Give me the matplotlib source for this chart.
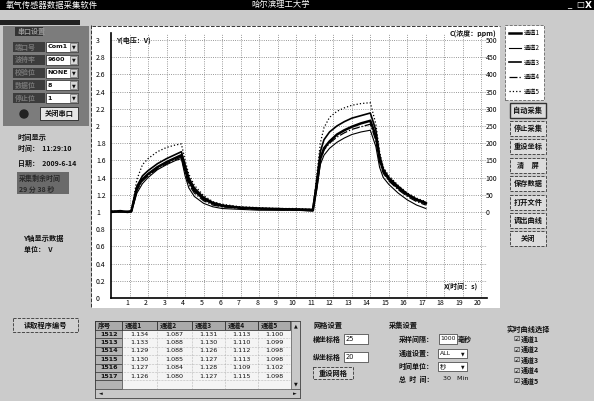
import matplotlib
matplotlib.use('Agg')
import matplotlib.pyplot as plt
from matplotlib.patches import Rectangle, Circle

plt.rcParams['font.family'] = ['Noto Sans CJK SC', 'DejaVu Sans']

W, H = 594, 401

# tempo (s) e tensao (V) dos 5 canais
tempo = [0.0, 0.5, 0.9, 1.1, 1.4, 1.7, 2.0, 2.5, 3.0, 3.5, 3.8, 4.0, 4.2, 4.5,
         5.0, 5.5, 6.0, 7.0, 8.0, 9.0, 10.0, 10.9, 11.1, 11.3, 11.5, 11.8, 12.2,
         12.6, 13.0, 13.5, 14.0, 14.3, 14.5, 14.7, 15.0, 15.5, 16.0, 16.5, 17.0]
canal1 = [1.00, 1.01, 1.00, 1.01, 1.28, 1.38, 1.44, 1.52, 1.58, 1.63, 1.66, 1.50, 1.36,
          1.25, 1.15, 1.10, 1.07, 1.05, 1.04, 1.03, 1.03, 1.02, 1.30, 1.62, 1.74, 1.82,
          1.90, 1.95, 1.99, 2.03, 2.06, 1.88, 1.62, 1.48, 1.38, 1.28, 1.20, 1.14, 1.10]
canal2 = [1.00, 1.00, 1.01, 1.00, 1.22, 1.33, 1.40, 1.49, 1.55, 1.60, 1.62, 1.42, 1.28,
          1.18, 1.10, 1.06, 1.04, 1.03, 1.02, 1.02, 1.02, 1.01, 1.25, 1.55, 1.66, 1.74,
          1.81, 1.86, 1.90, 1.93, 1.95, 1.76, 1.52, 1.40, 1.32, 1.22, 1.14, 1.08, 1.04]
canal3 = [1.01, 1.00, 1.00, 1.01, 1.30, 1.42, 1.48, 1.56, 1.62, 1.67, 1.70, 1.55, 1.40,
          1.28, 1.17, 1.11, 1.08, 1.05, 1.04, 1.04, 1.03, 1.03, 1.35, 1.70, 1.84, 1.93,
          2.00, 2.05, 2.09, 2.12, 2.15, 1.95, 1.66, 1.50, 1.40, 1.30, 1.21, 1.15, 1.11]
canal4 = [1.00, 1.01, 1.00, 1.00, 1.25, 1.36, 1.42, 1.50, 1.56, 1.61, 1.64, 1.46, 1.32,
          1.22, 1.13, 1.08, 1.06, 1.04, 1.03, 1.03, 1.02, 1.02, 1.28, 1.60, 1.72, 1.80,
          1.87, 1.92, 1.96, 1.99, 2.02, 1.83, 1.58, 1.45, 1.36, 1.26, 1.18, 1.12, 1.08]
canal5 = [1.01, 1.01, 1.00, 1.01, 1.38, 1.55, 1.62, 1.70, 1.75, 1.78, 1.79, 1.60, 1.44,
          1.31, 1.19, 1.12, 1.09, 1.06, 1.05, 1.04, 1.04, 1.03, 1.40, 1.80, 1.98, 2.10,
          2.17, 2.21, 2.24, 2.26, 2.27, 2.02, 1.70, 1.52, 1.42, 1.31, 1.22, 1.16, 1.12]
nomes = ['通道1', '通道2', '通道3', '通道4', '通道5']

xticks = list(range(1, 21))
yticks = [0, 0.2, 0.4, 0.6, 0.8, 1, 1.2, 1.4, 1.6, 1.8, 2, 2.2, 2.4, 2.6, 2.8, 3]
ppm_ticks = [0, 50, 100, 150, 200, 250, 300, 350, 400, 450, 500]

# tabela de dados
seq = ['1512', '1513', '1514', '1515', '1516', '1517']
tabela = [['1.134', '1.087', '1.131', '1.113', '1.100'],
          ['1.133', '1.088', '1.130', '1.110', '1.099'],
          ['1.129', '1.088', '1.126', '1.112', '1.098'],
          ['1.130', '1.085', '1.127', '1.113', '1.098'],
          ['1.127', '1.084', '1.128', '1.109', '1.102'],
          ['1.126', '1.080', '1.127', '1.115', '1.098']]

botoes = ['自动采集', '停止采集', '重设坐标', '清　屏', '保存数据', '打开文件', '调出曲线', '关闭']

fig = plt.figure(figsize=(W / 100, H / 100), dpi=100, facecolor='#cbcbcb')

bg = fig.add_axes([0, 0, 1, 1], zorder=0)
bg.set_xlim(0, W)
bg.set_ylim(H, 0)
bg.axis('off')


def caixa(x, y, w, h, fc, ec='none', lw=0.6, ls='-'):
    bg.add_patch(Rectangle((x, y), w, h, facecolor=fc, edgecolor=ec, lw=lw, ls=ls))


def texto(x, y, s, size=5.5, color='#111111', ha='left', weight='bold', **kw):
    bg.text(x, y, s, fontsize=size, color=color, ha=ha, va='center', fontweight=weight, **kw)


# barra de titulo
caixa(0, 0, W, 10, 'black')
texto(6, 5, '氧气传感器数据采集软件', size=6, color='white', weight='normal')
texto(281, 5, '哈尔滨理工大学', size=6, color='white', ha='center', weight='normal')
texto(567, 5, '_', size=6, color='white', weight='normal', family='DejaVu Sans')
texto(576, 5, '□', size=6, color='white', weight='normal', family='DejaVu Sans')
texto(585, 5, 'X', size=6.5, color='white', family='DejaVu Sans')
caixa(0, 20, 80, 5, '#222222')

# painel da serial
caixa(3, 26, 86, 100, '#7c7c7c')
caixa(15, 27, 28, 9, '#333333')
texto(17, 31.5, '串口设置', size=5, color='#999999')
rotulos = ['端口号', '波特率', '校验位', '数据位', '停止位']
valores = ['Com1', '9600', 'NONE', '8', '1']
for i, (r, v) in enumerate(zip(rotulos, valores)):
    yc = 47 + i * 12.8
    caixa(13, yc - 5, 32, 10, '#3c3c3c')
    texto(15, yc, r, size=5, color='#777777')
    caixa(46, yc - 5, 32, 10, 'white', ec='#222222', lw=0.5)
    texto(47.5, yc, v, size=4.6, family='DejaVu Sans')
    caixa(70, yc - 4, 7, 8, '#d8d8d8', ec='#444444', lw=0.4)
    texto(73.5, yc, '▼', size=3.5, ha='center', family='DejaVu Sans')
bg.add_patch(Circle((24, 114), 4, color='#222222'))
caixa(40, 107, 38, 13, '#e6e6e6', ec='#222222', lw=0.6)
texto(59, 113.5, '关闭串口', size=5.2, ha='center')

# tempo e data
texto(18, 137, '时间显示', size=5.2)
texto(18, 148, '时间：  11:29:10', size=5)
texto(18, 163, '日期：  2009-6-14', size=5)
caixa(17, 172, 52, 22, '#6a6a6a')
texto(19, 178, '采集剩余时间', size=5, color='#2a2a2a')
texto(19, 189, '29 分 38 秒', size=5, color='#2a2a2a')
texto(24, 238, 'Y轴显示数据', size=5.2)
texto(24, 249, '单位：  V', size=5)
caixa(13, 318, 65, 14, '#d0d0d0', ec='#333333', lw=0.6, ls='--')
texto(45.5, 325, '读取程序编号', size=5.2, ha='center')

# painel do grafico
caixa(92, 26, 408, 282, 'white')
bg.plot([91, 91], [25, 308], color='#333333', lw=0.7, ls='--')
bg.plot([92, 500], [25.5, 25.5], color='#333333', lw=0.7, ls='--')

ax = fig.add_axes([111 / W, 1 - 298 / H, (487 - 111) / W, (298 - 33) / H], zorder=2)
ax.patch.set_alpha(0)
ax.set_xlim(0, 20.3)
ax.set_ylim(0, 3.08)
estilos = [dict(lw=1.8, ls='-'), dict(lw=0.8, ls='-'), dict(lw=1.2, ls='-'),
           dict(lw=0.9, ls='-.'), dict(lw=0.9, ls=':')]
linhas = []
for serie, nome, est in zip([canal1, canal2, canal3, canal4, canal5], nomes, estilos):
    ln, = ax.plot(tempo, serie, color='black', label=nome, **est)
    linhas.append(ln)
ax.set_xticks(xticks)
ax.set_xticklabels([str(v) for v in xticks], ha='right')
ax.set_yticks(yticks)
ax.set_yticklabels(['%g' % v for v in yticks], ha='left')
ax.tick_params(axis='x', length=0, pad=1, labelsize=5)
ax.tick_params(axis='y', length=0, pad=10.8, labelsize=5)
ax.grid(True, ls=':', color='#777777', lw=0.6)
for s in ['top', 'right']:
    ax.spines[s].set_visible(False)
ax.spines['left'].set_linewidth(1.2)
ax.spines['bottom'].set_linewidth(1.2)

ax2 = ax.twinx()
ax2.set_zorder(3)
ax2.patch.set_visible(False)
ax2.set_ylim((0 - 1) * 250, (3.08 - 1) * 250)
ax2.set_yticks(ppm_ticks)
ax2.tick_params(axis='y', length=0, pad=-1, labelsize=5)
for s in ax2.spines.values():
    s.set_visible(False)

texto(116, 40, 'Y(电压：V)', size=5)
texto(496, 34, 'C(浓度：ppm)', size=5, ha='right')
texto(478, 286, 'X(时间：s)', size=5, ha='right')

leg = ax.legend(handles=linhas, loc='upper left', bbox_to_anchor=(505 / W, 1 - 25 / H),
                bbox_transform=fig.transFigure, fancybox=False, edgecolor='#666666',
                fontsize=4.5, labelspacing=1.05, handlelength=1.8, borderpad=0.7,
                handletextpad=0.5, borderaxespad=0, framealpha=1)
leg.get_frame().set_linewidth(0.6)
leg.get_frame().set_linestyle('--')

# botoes da direita
for i, b in enumerate(botoes):
    yc = 110 + i * 18.4
    caixa(510, yc - 7.5, 36, 15, '#dcdcdc', ec='#333333', lw=1.0 if i == 0 else 0.6,
          ls='-' if i == 0 else '--')
    texto(528, yc, b, size=5.2, ha='center')

# tabela
colx = [95, 122, 157, 192, 225, 258, 290]
cabec = ['序号'] + nomes
caixa(95, 321, 205, 77, '#f4f4f4', ec='#222222', lw=0.6)
for j, c in enumerate(cabec):
    caixa(colx[j], 321, colx[j + 1] - colx[j], 9, '#aaaaaa', ec='#222222', lw=0.5)
    texto(colx[j] + 3, 325.5, c, size=4.8)
for i in range(7):
    y0 = 330 + i * 8.4
    caixa(95, y0, 27, 8.4, '#b4b4b4', ec='#222222', lw=0.4)
    bg.plot([122, 290], [y0 + 8.4, y0 + 8.4], color='#888888', lw=0.4, ls=':')
    if i < len(seq):
        texto(118, y0 + 4.2, seq[i], size=4.6, ha='right', family='DejaVu Sans')
        for j, v in enumerate(tabela[i]):
            texto((colx[j + 1] + colx[j + 2]) / 2, y0 + 4.2, v, size=4.6, ha='center',
                  weight='normal', family='DejaVu Sans')
for xc in colx[2:-1]:
    bg.plot([xc, xc], [330, 389], color='#888888', lw=0.4, ls=':')
caixa(291, 321, 9, 68, '#c8c8c8', ec='#333333', lw=0.4)
texto(295.5, 325.5, '▲', size=3.5, ha='center', family='DejaVu Sans')
texto(295.5, 384, '▼', size=3.5, ha='center', family='DejaVu Sans')
caixa(95, 389, 205, 9, '#c8c8c8', ec='#333333', lw=0.4)
texto(99, 393.5, '◄', size=3.5, family='DejaVu Sans')
texto(293, 393.5, '►', size=3.5, family='DejaVu Sans')

# grade
texto(313, 325, '网格设置', size=5.2)
texto(313, 339, '横坐标格', size=5)
caixa(344, 334, 24, 10, 'white', ec='#333333', lw=0.5)
texto(346, 339, '25', size=4.8, weight='normal', family='DejaVu Sans')
texto(313, 357, '纵坐标格', size=5)
caixa(344, 352, 24, 10, 'white', ec='#333333', lw=0.5)
texto(346, 357, '20', size=4.8, weight='normal', family='DejaVu Sans')
caixa(313, 367, 40, 12, '#d4d4d4', ec='#333333', lw=0.6, ls='--')
texto(333, 373, '重设网格', size=5.2, ha='center')

# aquisicao
texto(389, 325, '采集设置', size=5.2)
texto(399, 339, '采样间隔：', size=5)
caixa(439, 334, 18, 10, 'white', ec='#333333', lw=0.5)
texto(440, 339, '1000', size=4.4, weight='normal', family='DejaVu Sans')
texto(458, 339, '毫秒', size=5)
texto(399, 353, '通道设置：', size=5)
caixa(438, 349, 29, 9, 'white', ec='#333333', lw=0.5)
texto(440, 353.5, 'ALL', size=4.4, weight='normal', family='DejaVu Sans')
texto(463, 353.5, '▼', size=3.3, ha='center', family='DejaVu Sans')
texto(399, 366, '时间单位：', size=5)
caixa(438, 362, 29, 9, 'white', ec='#333333', lw=0.5)
texto(440, 366.5, '秒', size=4.6, weight='normal')
texto(463, 366.5, '▼', size=3.3, ha='center', family='DejaVu Sans')
texto(399, 379, '总  时  间：', size=5)
texto(443, 379, '30   Min', size=4.6, weight='normal', family='DejaVu Sans')

# selecao de curvas
texto(507, 329, '实时曲线选择', size=5.2)
for i, n in enumerate(nomes):
    yc = 339 + i * 10.5
    texto(513, yc, '☑', size=5, weight='normal', family='DejaVu Sans')
    texto(521, yc, n, size=5)

fig.savefig('out.png', dpi=100, facecolor=fig.get_facecolor())
